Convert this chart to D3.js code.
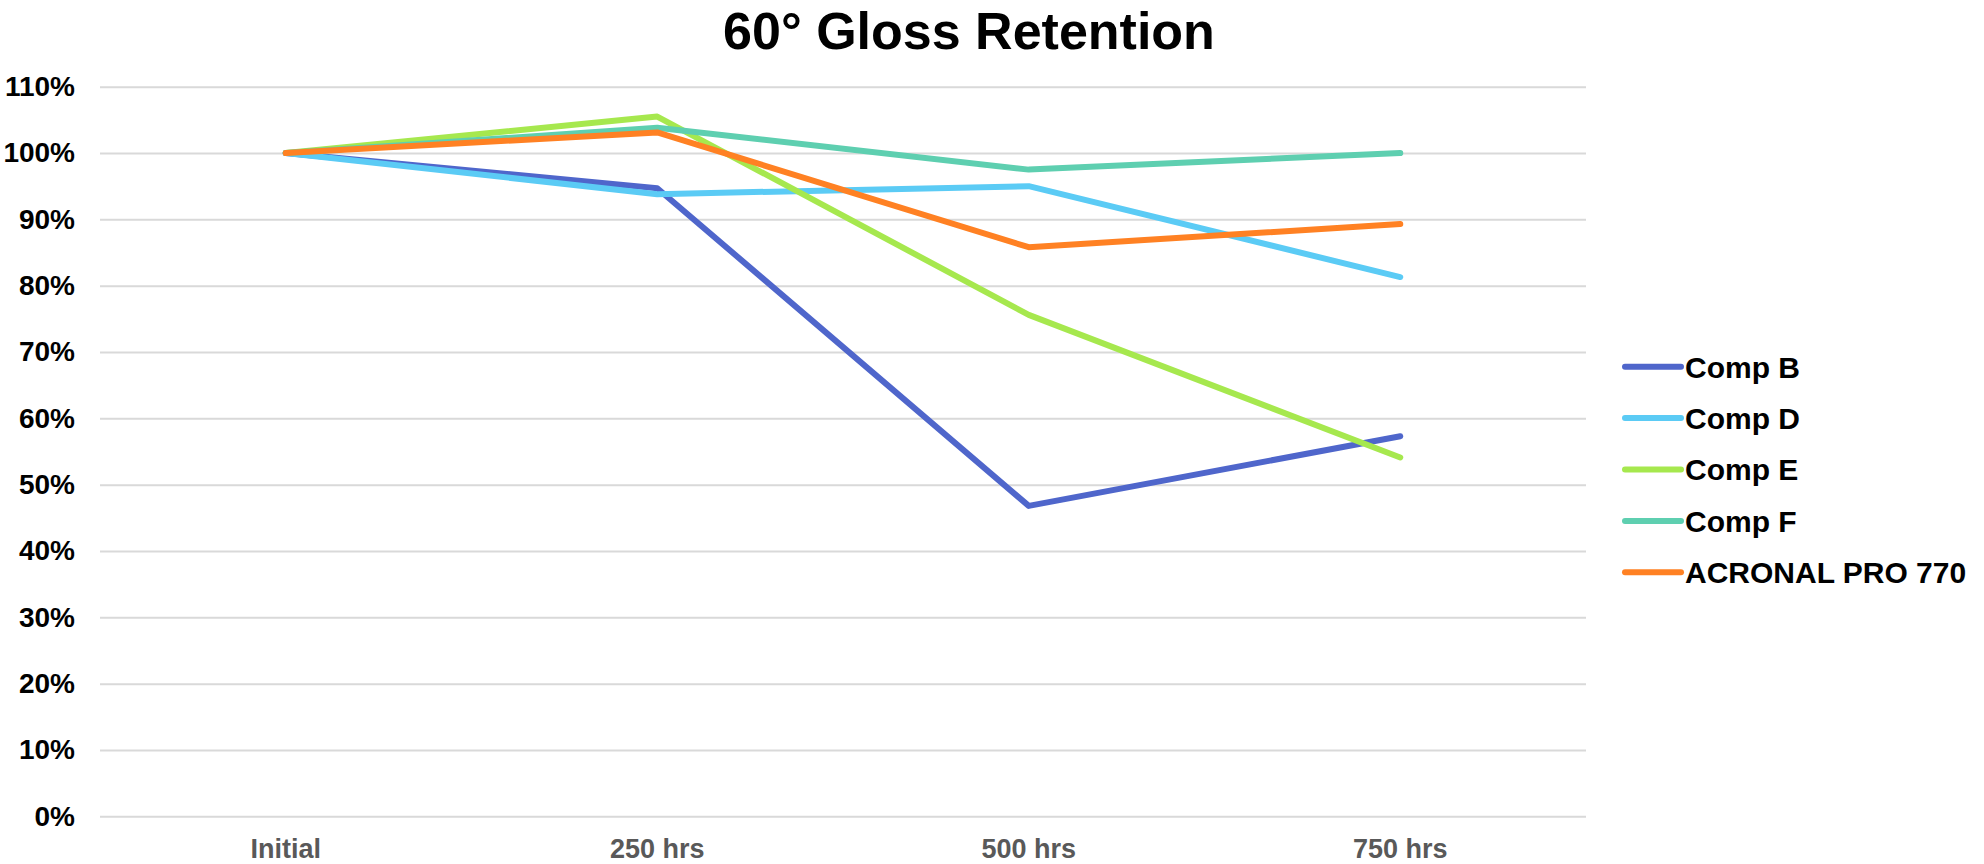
<!DOCTYPE html>
<html>
<head>
<meta charset="utf-8">
<script src="https://cdn.jsdelivr.net/npm/d3@7"></script>
<style>
  html, body { margin: 0; padding: 0; background: #fff; }
  svg { display: block; font-family: "Liberation Sans", Arial, sans-serif; }
</style>
</head>
<body>
<svg id="chart" width="1984" height="864"></svg>
<script>
// Time points along the x axis
const categories = ["Initial", "250 hrs", "500 hrs", "750 hrs"];

// Gloss retention per series (fraction of initial 60° gloss)
const compB   = [1.000, 0.947, 0.468, 0.573];
const compD   = [1.000, 0.938, 0.950, 0.813];
const compE   = [1.000, 1.055, 0.756, 0.541];
const compF   = [1.000, 1.038, 0.975, 1.000];
const acronal = [1.000, 1.031, 0.858, 0.893];

const seriesNames  = ["Comp B", "Comp D", "Comp E", "Comp F", "ACRONAL PRO 770"];
const seriesValues = [compB, compD, compE, compF, acronal];
const seriesColors = ["#4F66CB", "#5BCBF5", "#A6E84E", "#5ECFB0", "#FF8123"];

// Y axis ticks 0% .. 110%
const yTicks = [0, 0.1, 0.2, 0.3, 0.4, 0.5, 0.6, 0.7, 0.8, 0.9, 1.0, 1.1];

const svg = d3.select("#chart");

const plot = { left: 100, right: 1586, top: 86.7, bottom: 816.3 };

const x = d3.scaleBand().domain(categories).range([plot.left, plot.right]);
const y = d3.scaleLinear().domain([0, 1.1]).range([plot.bottom, plot.top]);

// Title
svg.append("text")
  .attr("x", 969).attr("y", 49)
  .attr("text-anchor", "middle")
  .attr("font-size", 52).attr("font-weight", "bold")
  .attr("fill", "#000")
  .text("60° Gloss Retention");

// Horizontal gridlines with percentage labels
const yAxis = d3.axisLeft(y)
  .tickValues(yTicks)
  .tickSize(-(plot.right - plot.left))
  .tickPadding(25)
  .tickFormat(d3.format(".0%"));

const gy = svg.append("g")
  .attr("transform", `translate(${plot.left},0)`)
  .call(yAxis);
gy.select(".domain").remove();
gy.selectAll(".tick line").attr("stroke", "#D9D9D9").attr("stroke-width", 2);
gy.selectAll(".tick text")
  .attr("font-size", 28).attr("font-weight", "bold")
  .attr("fill", "#000")
  .attr("font-family", "Liberation Sans, Arial, sans-serif");

// Category labels
const xAxis = d3.axisBottom(x).tickSize(0).tickPadding(23);
const gx = svg.append("g")
  .attr("transform", `translate(0,${plot.bottom})`)
  .call(xAxis);
gx.select(".domain").remove();
gx.selectAll(".tick text")
  .attr("font-size", 27).attr("font-weight", "bold")
  .attr("fill", "#595959")
  .attr("font-family", "Liberation Sans, Arial, sans-serif");

// Series lines
const line = d3.line()
  .x((d, i) => x(categories[i]) + x.bandwidth() / 2)
  .y(d => y(d));

svg.append("g").selectAll("path")
  .data(seriesValues)
  .join("path")
  .attr("d", d => line(d))
  .attr("fill", "none")
  .attr("stroke", (d, i) => seriesColors[i])
  .attr("stroke-width", 6)
  .attr("stroke-linecap", "round")
  .attr("stroke-linejoin", "round");

// Legend
const legend = svg.append("g").attr("transform", "translate(1625,366.7)");
const rows = legend.selectAll("g")
  .data(seriesNames)
  .join("g")
  .attr("transform", (d, i) => `translate(0,${i * 51.4})`);
rows.append("line")
  .attr("x1", 0).attr("x2", 56)
  .attr("y1", 0).attr("y2", 0)
  .attr("stroke", (d, i) => seriesColors[i])
  .attr("stroke-width", 6)
  .attr("stroke-linecap", "round");
rows.append("text")
  .attr("x", 60).attr("y", 0)
  .attr("dy", "0.36em")
  .attr("font-size", 30).attr("font-weight", "bold")
  .attr("fill", "#000")
  .text(d => d);
</script>
</body>
</html>
